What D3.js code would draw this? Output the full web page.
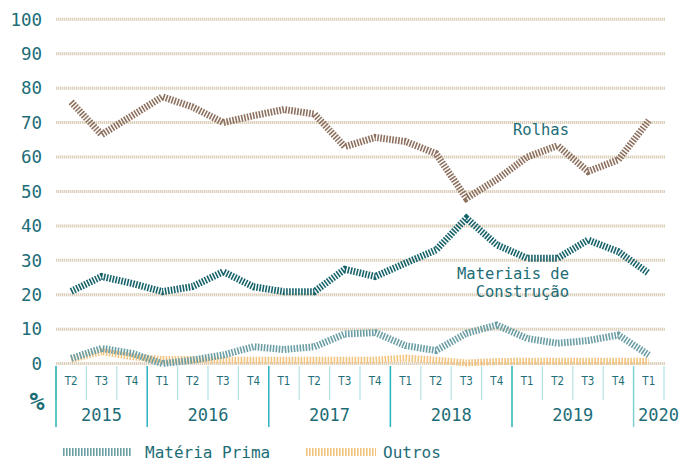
<!DOCTYPE html>
<html>
<head>
<meta charset="utf-8">
<script src="https://cdn.jsdelivr.net/npm/d3@7"></script>
<style>
  html, body { margin: 0; padding: 0; background: #fff; }
  svg text { font-family: "DejaVu Sans Mono", monospace; }
</style>
</head>
<body>
<div id="chart"></div>
<script>
// Quarters (T = trimestre) from 2015 T2 to 2020 T1
const years = ["2015", "2016", "2017", "2018", "2019", "2020"];
const periods = [
  "2015 T2", "2015 T3", "2015 T4",
  "2016 T1", "2016 T2", "2016 T3", "2016 T4",
  "2017 T1", "2017 T2", "2017 T3", "2017 T4",
  "2018 T1", "2018 T2", "2018 T3", "2018 T4",
  "2019 T1", "2019 T2", "2019 T3", "2019 T4",
  "2020 T1"
];
const yTicks = [0, 10, 20, 30, 40, 50, 60, 70, 80, 90, 100];

// Series values (%)
const rolhas = [76, 66.5, 72, 77.5, 74.5, 70, 72, 73.8, 72.5, 63,
                65.7, 64.5, 61, 48, 53.5, 60, 63.3, 55.8, 59.2, 70.6];
const materiaisConstrucao = [21, 25.3, 23.3, 20.9, 22.4, 26.7, 22.3, 20.9, 20.9, 27.4,
                             25.3, 29.2, 33, 42.2, 34.5, 30.6, 30.6, 35.9, 32.5, 26.2];
const materiaPrima = [1.5, 4.4, 3, 0, 1, 2.5, 4.9, 4.1, 4.9, 8.6,
                      9, 5.2, 3.8, 8.8, 11.2, 7.3, 5.9, 6.7, 8.3, 2.5];
const outros = [1.2, 3.5, 2, 1.2, 1.2, 1, 1, 1, 1, 1,
                1, 1.6, 1, 0.2, 0.6, 0.7, 0.7, 0.7, 0.7, 0.7];

const W = 682, H = 461;
const TEXT = "#1d6d77";

const svg = d3.select("#chart").append("svg")
  .attr("width", W).attr("height", H);

const x = d3.scaleBand().domain(periods).range([56, 664]).padding(0);
const y = d3.scaleLinear().domain([0, 100]).range([363.6, 19.3]);

// Gridlines: light band with hatch on top
const grid = svg.append("g");
grid.selectAll("line.base")
  .data(yTicks)
  .enter().append("line")
  .attr("class", "base")
  .attr("x1", 56).attr("x2", 665)
  .attr("y1", d => y(d)).attr("y2", d => y(d))
  .attr("stroke", "#f2ede5")
  .attr("stroke-width", 3);
grid.selectAll("line.hatch")
  .data(yTicks)
  .enter().append("line")
  .attr("class", "hatch")
  .attr("x1", 56).attr("x2", 665)
  .attr("y1", d => y(d)).attr("y2", d => y(d))
  .attr("stroke", "#dcd0bc")
  .attr("stroke-width", 3)
  .attr("stroke-dasharray", "1 1");

// Y axis labels
svg.append("g").selectAll("text")
  .data(yTicks)
  .enter().append("text")
  .attr("x", 42).attr("y", d => y(d))
  .attr("dy", "0.36em")
  .attr("text-anchor", "end")
  .attr("fill", TEXT)
  .style("font-size", "17.5px")
  .text(d => d);

svg.append("text")
  .attr("x", 37).attr("y", 410)
  .attr("text-anchor", "middle")
  .attr("fill", TEXT)
  .style("font-size", "25px")
  .style("font-weight", "bold")
  .text("%");

// X axis: quarter separators and labels
const band = x.bandwidth();
svg.append("g").selectAll("line")
  .data(periods)
  .enter().append("line")
  .attr("x1", d => x(d)).attr("x2", d => x(d))
  .attr("y1", 366)
  .attr("y2", d => d.endsWith("T1") ? 427 : 400)
  .attr("stroke", d => d === "2020 T1" ? "#7fd0d6" : d.endsWith("T1") ? "#2ab2bc" : "#b5e2e5")
  .attr("stroke-width", d => d.endsWith("T1") ? 1.5 : 1.2);

// outer left / right edges
svg.append("line")
  .attr("x1", x(periods[0])).attr("x2", x(periods[0]))
  .attr("y1", 366).attr("y2", 427)
  .attr("stroke", "#2ab2bc").attr("stroke-width", 1.5);
svg.append("line")
  .attr("x1", x(periods[periods.length - 1]) + band).attr("x2", x(periods[periods.length - 1]) + band)
  .attr("y1", 366).attr("y2", 400)
  .attr("stroke", "#b5e2e5").attr("stroke-width", 1.2);

svg.append("g").selectAll("text")
  .data(periods)
  .enter().append("text")
  .attr("x", d => x(d) + band / 2)
  .attr("y", 385)
  .attr("text-anchor", "middle")
  .attr("fill", TEXT)
  .style("font-family", "'DejaVu Sans Condensed', sans-serif")
  .style("font-size", "11.5px")
  .text(d => d.split(" ")[1]);

// Year labels, centred under their quarters
svg.append("g").selectAll("text")
  .data(years)
  .enter().append("text")
  .attr("x", yr => {
    const qs = periods.filter(p => p.startsWith(yr));
    const x0 = x(qs[0]), x1 = x(qs[qs.length - 1]) + band;
    return yr === "2020" ? x0 + 25 : (x0 + x1) / 2;
  })
  .attr("y", 421)
  .attr("text-anchor", "middle")
  .attr("fill", TEXT)
  .style("font-size", "17px")
  .text(d => d);

// Series lines (hatched strokes)
const line = d3.line()
  .x((d, i) => x(periods[i]) + band / 2)
  .y(d => y(d));

const series = [
  { name: "Outros", values: outros, color: "#f1c37e", width: 7 },
  { name: "Matéria Prima", values: materiaPrima, color: "#6b9ea5", width: 7 },
  { name: "Materiais de Construção", values: materiaisConstrucao, color: "#17636b", width: 7 },
  { name: "Rolhas", values: rolhas, color: "#8d705e", width: 7 }
];

svg.append("g").selectAll("path")
  .data(series)
  .enter().append("path")
  .attr("d", d => line(d.values))
  .attr("fill", "none")
  .attr("stroke", d => d.color)
  .attr("stroke-width", d => d.width)
  .attr("stroke-dasharray", "1.6 1.4");

// Inline labels
svg.append("text")
  .attr("x", 569).attr("y", 135)
  .attr("text-anchor", "end")
  .attr("fill", TEXT)
  .style("font-size", "15.5px")
  .text("Rolhas");
svg.append("text")
  .attr("x", 569).attr("y", 279)
  .attr("text-anchor", "end")
  .attr("fill", TEXT)
  .style("font-size", "15.5px")
  .text("Materiais de");
svg.append("text")
  .attr("x", 569).attr("y", 297)
  .attr("text-anchor", "end")
  .attr("fill", TEXT)
  .style("font-size", "15.5px")
  .text("Construção");

// Legend
const legend = [
  { name: "Matéria Prima", color: "#6b9ea5", x0: 63, x1: 131, tx: 145 },
  { name: "Outros", color: "#f1c37e", x0: 306, x1: 376, tx: 383 }
];
const lg = svg.append("g").selectAll("g").data(legend).enter().append("g");
lg.append("line")
  .attr("x1", d => d.x0).attr("x2", d => d.x1)
  .attr("y1", 452).attr("y2", 452)
  .attr("stroke", d => d.color)
  .attr("stroke-width", 8)
  .attr("stroke-dasharray", "1.6 1.4");
lg.append("text")
  .attr("x", d => d.tx).attr("y", 458)
  .attr("fill", TEXT)
  .style("font-size", "16px")
  .text(d => d.name);
</script>
</body>
</html>
